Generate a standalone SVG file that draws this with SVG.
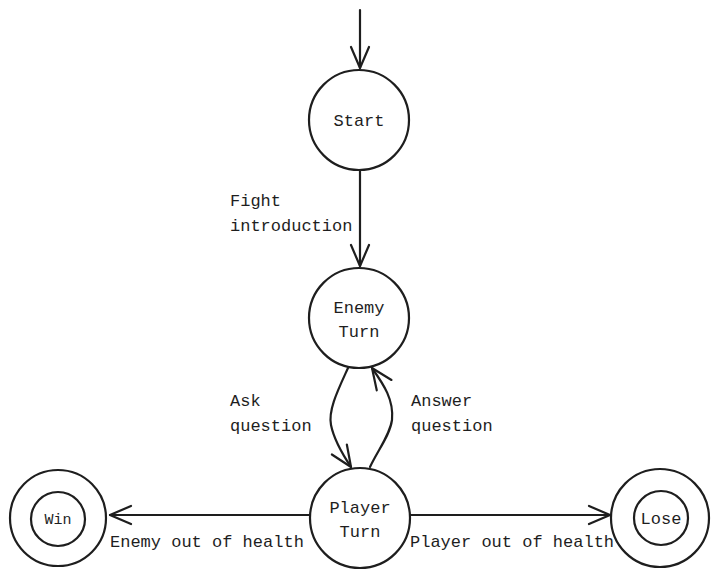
<svg xmlns="http://www.w3.org/2000/svg" width="720" height="577" viewBox="0 0 720 577">
<style>
.node{fill:none;stroke:#1e1e1e;stroke-width:2.2}
.edge{fill:none;stroke:#1e1e1e;stroke-width:2.2;stroke-linecap:round}
.lbl{font-family:"Liberation Mono",monospace;font-size:17px;fill:#1e1e1e}
.c{text-anchor:middle}
</style>
<defs>
<marker id="ah" markerWidth="26" markerHeight="22" refX="23" refY="11" orient="auto" markerUnits="userSpaceOnUse">
<path d="M2,2 L23,11 L2,20" fill="none" stroke="#1e1e1e" stroke-width="2.2" stroke-linecap="round" stroke-linejoin="round"/>
</marker>
</defs>
<rect width="720" height="577" fill="#ffffff"/>
<g id="connectors">
<path class="edge" d="M360,10 L360,68" marker-end="url(#ah)"/>
<path class="edge" d="M360,170 L360,266" marker-end="url(#ah)"/>
<path class="edge" d="M348,368 C338,390 328,410 331,425 C334,440 343,455 351,467" marker-end="url(#ah)"/>
<path class="edge" d="M370,467 C378,450 390,435 392,420 C394,400 384,385 372,368" marker-end="url(#ah)"/>
<path class="edge" d="M310,515 L110,515" marker-end="url(#ah)"/>
<path class="edge" d="M410,515 L610,515" marker-end="url(#ah)"/>
</g>
<g id="edge-labels">
<text class="lbl" x="230" y="206">Fight</text>
<text class="lbl" x="230" y="231">introduction</text>
<text class="lbl" x="230" y="406">Ask</text>
<text class="lbl" x="230" y="431">question</text>
<text class="lbl" x="411" y="406">Answer</text>
<text class="lbl" x="411" y="431">question</text>
<text class="lbl" x="110" y="547">Enemy out of health</text>
<text class="lbl" x="410" y="547">Player out of health</text>
</g>
<g id="start">
<circle class="node" cx="359" cy="120" r="50"/>
<text class="lbl c" x="359" y="126">Start</text>
</g>
<g id="enemy-turn">
<circle class="node" cx="359" cy="318" r="50"/>
<text class="lbl c" x="359" y="313">Enemy</text>
<text class="lbl c" x="359" y="337">Turn</text>
</g>
<g id="player-turn">
<circle class="node" cx="360" cy="518" r="50"/>
<text class="lbl c" x="360" y="513">Player</text>
<text class="lbl c" x="360" y="537">Turn</text>
</g>
<g id="win">
<circle class="node" cx="58" cy="518" r="48"/>
<circle class="node" cx="58" cy="519" r="27"/>
<text class="lbl c" x="58" y="524" style="font-size:15px">Win</text>
</g>
<g id="lose">
<circle class="node" cx="660" cy="518" r="49"/>
<circle class="node" cx="661" cy="518" r="27"/>
<text class="lbl c" x="661" y="524">Lose</text>
</g>
</svg>
